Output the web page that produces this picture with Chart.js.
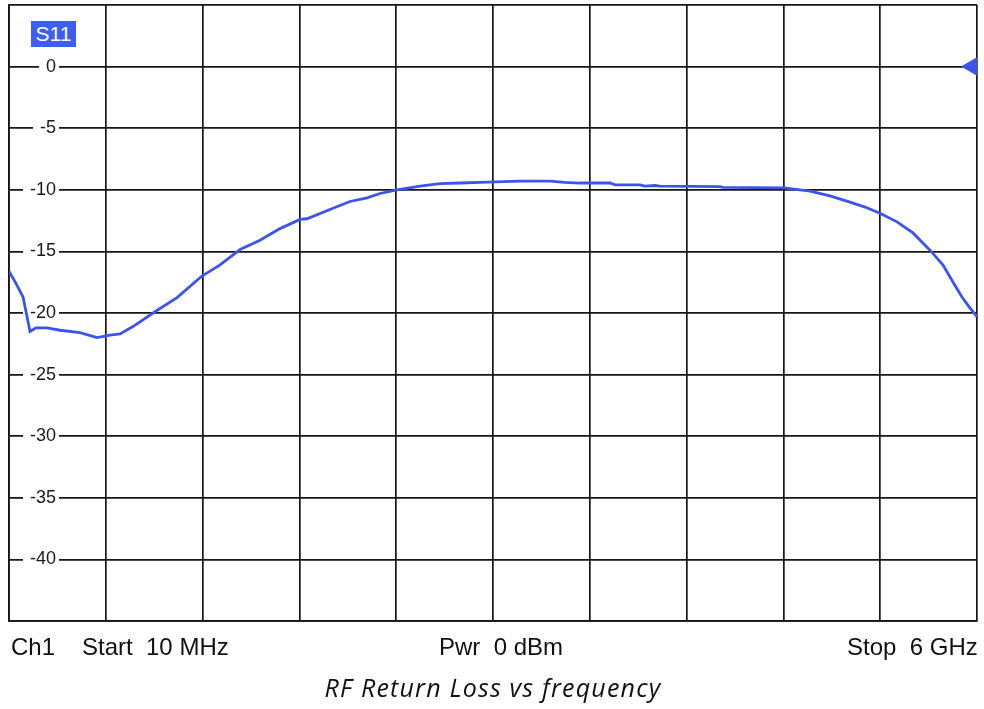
<!DOCTYPE html>
<html>
<head>
<meta charset="utf-8">
<script src="https://cdn.jsdelivr.net/npm/chart.js@4/dist/chart.umd.min.js"></script>
<style>
  html, body { margin: 0; padding: 0; background: #fff; }
  #wrap { position: relative; width: 984px; height: 709px; }
  #wrap canvas { position: absolute; left: 0; top: 0; }
  .lbl { position: absolute; font-family: "Liberation Sans", Arial, sans-serif; font-size: 24px; line-height: 24px; color: #111; white-space: pre; }
  #trace { position: absolute; left: 31px; top: 21px; width: 45px; height: 26px; background: #3d5ef2; color: #fff;
           font-family: "Liberation Sans", Arial, sans-serif; font-size: 21px; line-height: 26px; text-align: center; }
  #caption { position: absolute; left: 0; width: 986px; top: 672px; text-align: center; font-family: "Open Sans", Lato, sans-serif;
             font-style: italic; font-size: 25px; letter-spacing: 1.2px; line-height: 30px; color: #111; }
</style>
</head>
<body>
<div id="wrap">
  <canvas id="c" width="984" height="709"></canvas>
  <div id="trace">S11</div>
  <div class="lbl" style="left:11px; top:635px;">Ch1</div>
  <div class="lbl" style="left:82px; top:635px;">Start  10 MHz</div>
  <div class="lbl" style="left:439px; top:635px;">Pwr  0 dBm</div>
  <div class="lbl" style="left:847px; top:635px;">Stop  6 GHz</div>
  <div id="caption">RF Return Loss vs frequency</div>
</div>
<script>
const freqMHz = [10,53,97,140,177,245,326,449,555,635,697,777,913,1050,1204,1316,1440,1563,1687,1811,1854,2015,2120,2225,2306,2411,2553,2677,2801,2924,3172,3358,3450,3543,3729,3760,3915,3946,4008,4038,4410,4428,4806,4905,4967,5090,5214,5307,5400,5505,5604,5709,5790,5852,5907,5957,6000];
const s11dB = [-16.6,-17.6,-18.7,-21.5,-21.2,-21.2,-21.4,-21.6,-22.0,-21.8,-21.7,-21.1,-19.9,-18.75,-17.0,-16.1,-14.85,-14.1,-13.15,-12.4,-12.35,-11.5,-10.95,-10.65,-10.3,-10.0,-9.7,-9.5,-9.45,-9.4,-9.3,-9.3,-9.4,-9.45,-9.45,-9.6,-9.6,-9.7,-9.65,-9.7,-9.75,-9.8,-9.85,-10.0,-10.1,-10.5,-11.0,-11.4,-11.9,-12.6,-13.5,-14.9,-16.1,-17.5,-18.7,-19.6,-20.3];

// Sweep settings and axis layout
const startMHz = 10;
const stopMHz = 6000;
const xDivisions = 10;
const yMin = -45;
const yMax = 5;
const yStep = 5;
const refLevelDb = 0;           // reference level marker
const hiddenYLabels = [5, -45]; // grid lines without labels

const traceColor = '#3b55ea';
const gridColor = '#161616';

const points = freqMHz.map((f, i) => ({ x: f, y: s11dB[i] }));

new Chart(document.getElementById('c'), {
  type: 'line',
  data: {
    datasets: [
      {
        data: points,
        borderColor: traceColor,
        borderWidth: 2.8,
        pointRadius: 0,
        tension: 0,
        fill: false
      },
      {
        data: [{ x: stopMHz, y: refLevelDb }],
        showLine: false,
        pointStyle: 'triangle',
        rotation: 270,
        pointRadius: 16,
        pointBorderWidth: 0,
        pointBackgroundColor: traceColor,
        borderColor: traceColor,
        clip: 0
      }
    ]
  },
  options: {
    responsive: false,
    animation: false,
    layout: { autoPadding: false, padding: { left: 9, top: 5, right: 7, bottom: 88 } },
    plugins: { legend: { display: false }, tooltip: { enabled: false } },
    events: [],
    scales: {
      x: {
        type: 'linear',
        min: startMHz,
        max: stopMHz,
        afterBuildTicks: (s) => {
          const step = (stopMHz - startMHz) / xDivisions;
          s.ticks = Array.from({ length: xDivisions + 1 }, (_, i) => ({ value: startMHz + i * step }));
        },
        ticks: { display: false },
        grid: { color: gridColor, lineWidth: 1.7, drawTicks: false },
        border: { color: gridColor, width: 1.7 },
        afterFit: (s) => { s.height = 0; s.paddingLeft = 0; s.paddingRight = 0; }
      },
      y: {
        type: 'linear',
        min: yMin,
        max: yMax,
        ticks: {
          stepSize: yStep,
          mirror: true,
          crossAlign: 'far',
          padding: 21,
          color: '#1a1a1a',
          font: { family: '"Liberation Sans", Arial, sans-serif', size: 18 },
          callback: (v) => hiddenYLabels.includes(v) ? '' : String(v),
          showLabelBackdrop: (ctx) => !hiddenYLabels.includes(ctx.tick.value),
          backdropColor: '#ffffff',
          backdropPadding: { left: 7, right: 3, top: 0, bottom: 0 }
        },
        grid: { color: gridColor, lineWidth: 1.7, drawTicks: false },
        border: { color: gridColor, width: 1.7 },
        afterFit: (s) => { s.width = 0; s.paddingTop = 0; s.paddingBottom = 0; }
      }
    }
  }
});
</script>
</body>
</html>
